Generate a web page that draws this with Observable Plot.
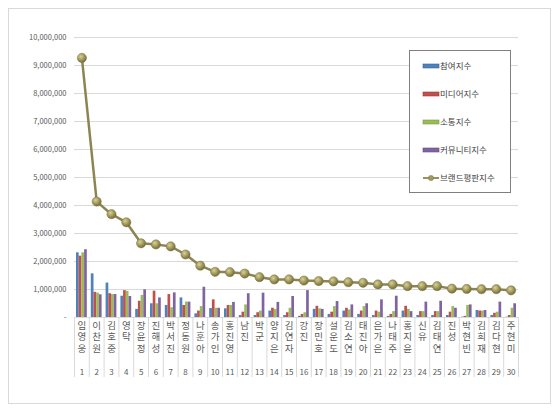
<!DOCTYPE html>
<html><head><meta charset="utf-8">
<script src="https://cdn.jsdelivr.net/npm/d3@7"></script>
<script src="https://cdn.jsdelivr.net/npm/@observablehq/plot@0.6"></script>
<style>
body{margin:0;background:#fff;}
#wrap{position:relative;width:560px;height:413px;font-family:"Noto Sans CJK KR","Noto Sans",sans-serif;}
#frame{position:absolute;left:8px;top:8px;width:543px;height:396px;border:1px solid #d9d9d9;box-sizing:border-box;pointer-events:none}
#chart{position:absolute;left:0;top:0}
#legend{position:absolute;left:409px;top:50px;width:102px;height:143px;border:1px solid #7f7f7f;background:#fff;box-sizing:border-box}
</style></head>
<body><div id="wrap"><div id="frame"></div><div id="chart"></div><div id="legend"></div></div>
<script>
const names = ["임영웅","이찬원","김호중","영탁","장윤정","진해성","박서진","정동원","나훈아","송가인","홍진영","남진","박군","양지은","김연자","강진","장민호","설운도","김소연","태진아","은가은","나태주","홍지윤","신유","김태연","진성","박현빈","김희재","김다현","주현미"];
const ranks = [1,2,3,4,5,6,7,8,9,10,11,12,13,14,15,16,17,18,19,20,21,22,23,24,25,26,27,28,29,30];
const participation = [2310000,1560000,1230000,760000,290000,490000,430000,700000,130000,320000,310000,70000,70000,230000,70000,40000,290000,110000,230000,110000,70000,40000,230000,70000,70000,70000,10000,250000,70000,10000];
const media = [2190000,900000,850000,960000,580000,940000,820000,430000,230000,630000,430000,190000,170000,330000,170000,110000,400000,190000,330000,230000,230000,110000,400000,210000,210000,190000,40000,230000,150000,70000];
const communication = [2310000,870000,820000,930000,790000,490000,350000,550000,390000,330000,430000,450000,230000,290000,330000,170000,310000,390000,270000,390000,190000,210000,290000,210000,210000,390000,430000,230000,190000,330000];
const community = [2420000,810000,820000,750000,990000,700000,880000,550000,1080000,330000,540000,850000,870000,540000,750000,960000,290000,570000,450000,490000,630000,760000,210000,550000,580000,330000,450000,250000,550000,490000];
const brand = [9270000,4140000,3690000,3400000,2650000,2610000,2540000,2250000,1850000,1630000,1620000,1570000,1440000,1360000,1360000,1320000,1300000,1290000,1260000,1240000,1180000,1180000,1120000,1120000,1120000,1030000,1020000,1010000,1010000,970000];
const seriesNames = ["참여지수","미디어지수","소통지수","커뮤니티지수","브랜드평판지수"];
const yTicks = [0,1000000,2000000,3000000,4000000,5000000,6000000,7000000,8000000,9000000,10000000];

const barColors = ["#4f81bd","#c0504d","#9bbb59","#8064a2"];
const barStrokes = ["#3a6496","#9c3b38","#7a9a3f","#624a82"];
const lineColor = "#8c8553";

const data = ranks.map((r, i) => ({rank: r, name: names[i], s0: participation[i], s1: media[i], s2: communication[i], s3: community[i], brand: brand[i]}));

const W = 560, H = 413, mL = 74, mR = 42, mT = 37, mB = 96;
const bw = (W - mL - mR) / ranks.length;
const groupL = 2.0, barW = 2.7;
const font = '"Noto Sans CJK KR","Noto Sans",sans-serif';

const defs = () => {
  const g = d3.create("svg:defs");
  const rg = g.append("radialGradient").attr("id", "dotGrad").attr("cx", "38%").attr("cy", "35%").attr("r", "65%");
  rg.append("stop").attr("offset", "0%").attr("stop-color", "#d8d19a");
  rg.append("stop").attr("offset", "55%").attr("stop-color", "#a39b5c");
  rg.append("stop").attr("offset", "100%").attr("stop-color", "#746d3c");
  return g.node();
};

const barMarks = [0,1,2,3].map(i => Plot.barY(data, {
  x: "rank", y: "s" + i, fill: barColors[i],
  insetLeft: groupL + i * barW, insetRight: bw - groupL - (i + 1) * barW
}));

const chart = Plot.plot({
  width: W, height: H,
  marginLeft: mL, marginRight: mR, marginTop: mT, marginBottom: mB,
  style: {fontFamily: font, background: "transparent", overflow: "visible"},
  x: {type: "band", domain: ranks, padding: 0, round: false},
  y: {domain: [0, 10000000]},
  marks: [
    defs,
    Plot.ruleY(yTicks, {stroke: "#d9d9d9", strokeWidth: 1}),
    Plot.axisY({ticks: yTicks, tickSize: 0, tickPadding: 8, fontSize: 7.5, fill: "#595959", label: null,
      tickFormat: d => d === 0 ? "-" : d3.format(",")(d)}),
    Plot.axisX({tickSize: 60, dx: -bw / 2, stroke: "#d9d9d9", tickFormat: () => "", label: null}),
    Plot.axisX([ranks[ranks.length - 1]], {tickSize: 60, dx: bw / 2, stroke: "#d9d9d9", tickFormat: () => "", label: null}),
    Plot.axisX({tickSize: 0, tickPadding: 3, fontSize: 9.5, fill: "#595959", label: null,
      tickFormat: r => names[r - 1]}),
    Plot.axisX({tickSize: 0, tickPadding: 52, fontSize: 8, fill: "#595959", label: null}),
    ...barMarks,
    Plot.line(data, {x: "rank", y: "brand", stroke: lineColor, strokeWidth: 2.5}),
    Plot.dot(data, {x: "rank", y: "brand", r: 4.6, fill: "url(#dotGrad)", stroke: "#7a7445", strokeWidth: 0.5})
  ]
});
document.getElementById("chart").appendChild(chart);

// make category names vertical, upright stacked characters
d3.select(chart).selectAll("text")
  .filter(function () { return names.includes(this.textContent); })
  .attr("dy", null)
  .attr("y", null)
  .attr("text-anchor", "start")
  .style("writing-mode", "vertical-rl")
  .style("text-orientation", "upright")
  .style("letter-spacing", "2px")
  .style("font-family", font);

// legend
const lg = d3.select("#legend").append("svg").attr("width", 100).attr("height", 141)
  .style("font-family", font);
seriesNames.forEach((s, i) => {
  const cy = 15 + i * 28;
  if (i < 4) {
    lg.append("rect").attr("x", 13).attr("y", cy - 2).attr("width", 16).attr("height", 4)
      .attr("fill", barColors[i]).attr("stroke", barStrokes[i]).attr("stroke-width", 0.6);
  } else {
    lg.append("line").attr("x1", 13).attr("x2", 29).attr("y1", cy).attr("y2", cy)
      .attr("stroke", lineColor).attr("stroke-width", 1.8);
    lg.append("circle").attr("cx", 21).attr("cy", cy).attr("r", 2.6).attr("fill", "#a39b5c").attr("stroke", "#7a7445").attr("stroke-width", 0.5);
  }
  lg.append("text").attr("x", 30).attr("y", cy).attr("dy", "0.35em").attr("font-size", 8.5)
    .attr("fill", "#404040").text(s);
});
</script>
</body></html>
